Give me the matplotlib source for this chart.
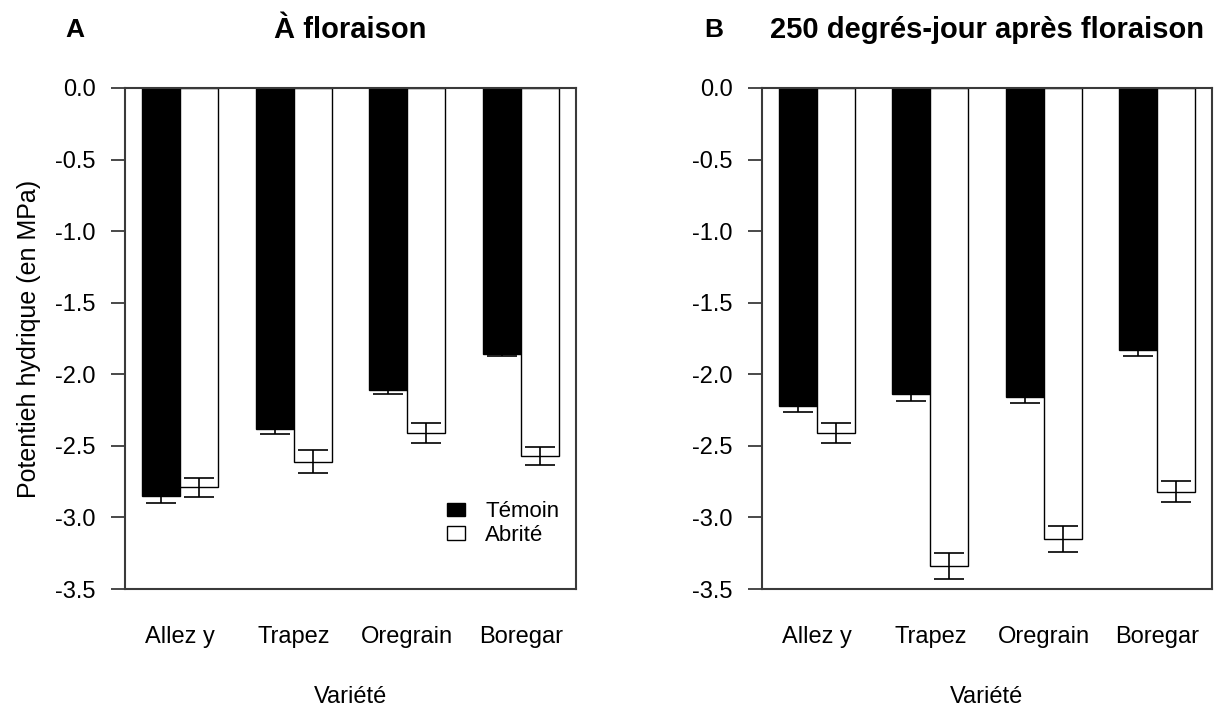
import matplotlib
matplotlib.use("Agg")
import matplotlib.pyplot as plt
import numpy as np
from matplotlib.patches import Patch

plt.rcParams["font.family"] = ["Liberation Sans", "DejaVu Sans"]

varietes = ["Allez y", "Trapez", "Oregrain", "Boregar"]

# À floraison
a_temoin = [-2.85, -2.38, -2.11, -1.86]
a_temoin_se = [0.05, 0.04, 0.025, 0.015]
a_abrite = [-2.79, -2.61, -2.41, -2.57]
a_abrite_se = [0.065, 0.083, 0.067, 0.065]

# 250 degrés-jour après floraison
b_temoin = [-2.22, -2.14, -2.16, -1.83]
b_temoin_se = [0.04, 0.05, 0.04, 0.04]
b_abrite = [-2.41, -3.34, -3.15, -2.82]
b_abrite_se = [0.067, 0.093, 0.092, 0.072]

yticks = [0.0, -0.5, -1.0, -1.5, -2.0, -2.5, -3.0, -3.5]

BOX = "#3a3a3a"


def panel(ax, temoin, temoin_se, abrite, abrite_se, title):
    centers = 1 + 3 * np.arange(len(varietes))
    ax.bar(centers - 0.5, temoin, width=1, color="black", edgecolor="black", linewidth=1, zorder=2)
    ax.bar(centers + 0.5, abrite, width=1, color="white", edgecolor="black", linewidth=1, zorder=2)
    for x, v, e in [(centers - 0.5, temoin, temoin_se), (centers + 0.5, abrite, abrite_se)]:
        ax.errorbar(x, v, yerr=e, fmt="none", ecolor="black", elinewidth=1.2,
                    capsize=11, capthick=1.2, zorder=3)
    ax.set_xlim(-0.45, 11.45)
    ax.set_ylim(-3.5, 0)
    ax.set_yticks(yticks)
    ax.set_yticklabels([f"{t:.1f}" for t in yticks])
    ax.set_xticks(centers)
    ax.set_xticklabels(varietes)
    ax.tick_params(axis="y", direction="out", length=10, width=1.3, color=BOX, pad=11, labelsize=17)
    ax.tick_params(axis="x", length=0, pad=27, labelsize=17)
    for s in ax.spines.values():
        s.set_color(BOX)
        s.set_linewidth(1.5)
    ax.set_xlabel("Variété", fontsize=17, labelpad=27)
    ax.set_title(title, fontsize=21, fontweight="bold", pad=36)


fig = plt.figure(figsize=(12.18, 7.08), dpi=100)
ax_a = fig.add_axes([125 / 1218, 1 - 589 / 708, 451 / 1218, 501 / 708])
ax_b = fig.add_axes([762 / 1218, 1 - 589 / 708, 450 / 1218, 501 / 708])

panel(ax_a, a_temoin, a_temoin_se, a_abrite, a_abrite_se, "À floraison")
panel(ax_b, b_temoin, b_temoin_se, b_abrite, b_abrite_se, "250 degrés-jour après floraison")

ax_a.set_ylabel("Potentieh hydrique (en MPa)", fontsize=18, labelpad=10)

handles = [Patch(facecolor="black", edgecolor="black", label="Témoin"),
           Patch(facecolor="white", edgecolor="black", label="Abrité")]
ax_a.legend(handles=handles, loc="upper left", bbox_to_anchor=(0.713, 0.175),
            frameon=False, fontsize=16, handlelength=0.85, handleheight=0.55,
            handletextpad=0.9, labelspacing=0.12, borderpad=0, borderaxespad=0)

fig.text(75 / 1218, 1 - 30 / 708, "A", fontsize=19, fontweight="bold", ha="center", va="center")
fig.text(714 / 1218, 1 - 30 / 708, "B", fontsize=19, fontweight="bold", ha="center", va="center")

fig.savefig("out.png", dpi=100)
